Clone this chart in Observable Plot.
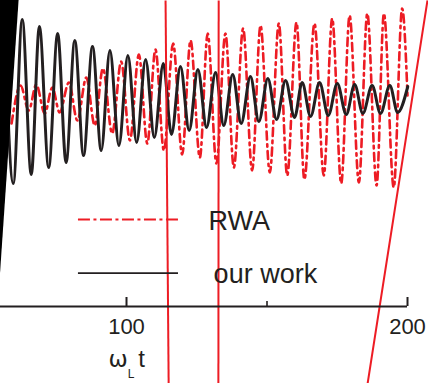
<!DOCTYPE html>
<html>
<head>
<meta charset="utf-8">
<script src="https://cdn.jsdelivr.net/npm/d3@7"></script>
<script src="https://cdn.jsdelivr.net/npm/@observablehq/plot@0.6"></script>
<style>
  html, body { margin: 0; padding: 0; background: #fff; overflow: hidden; }
  #chart svg { display: block; }
</style>
</head>
<body>
<div id="chart"></div>
<script>
// ---- data (time ωL t, signal amplitude; extrema) ----
const blackT = [56.5, 59.7, 62.9, 66.1, 69.0, 72.3, 75.5, 78.5, 81.6, 84.7, 87.9, 91.0, 94.1, 97.3,
  100.5, 103.6, 106.8, 109.9, 113.1, 116.0, 119.2, 122.3, 125.4, 128.5, 131.7, 134.6, 137.8, 140.8,
  144.1, 147.1, 150.3, 153.4, 156.6, 159.8, 162.5, 165.5, 168.7, 171.8, 175.0, 178.2, 181.2, 184.1,
  187.4, 190.4, 193.7, 196.5, 200.1];
const blackV = [0.88, -0.83, 0.81, -0.74, 0.74, -0.67, 0.67, -0.62, 0.60, -0.55, 0.54, -0.50, 0.50, -0.45,
  0.45, -0.42, 0.41, -0.37, 0.37, -0.34, 0.34, -0.30, 0.31, -0.27, 0.28, -0.25, 0.26, -0.23,
  0.24, -0.21, 0.22, -0.19, 0.20, -0.17, 0.18, -0.16, 0.18, -0.15, 0.17, -0.14, 0.16, -0.13,
  0.15, -0.13, 0.15, -0.12, 0.14];

const redT = [59.1, 62.3, 65.2, 67.9, 70.9, 73.6, 76.2, 79.5, 82.5, 85.7, 88.7, 91.6, 94.9, 98.1,
  101.2, 104.4, 107.4, 110.3, 113.3, 116.6, 119.8, 122.8, 126.1, 128.9, 132.0, 135.2, 138.2, 141.5,
  144.7, 147.7, 151.0, 154.2, 157.2, 160.5, 163.3, 166.9, 170.2, 173.2, 176.4, 179.4, 182.7, 185.7,
  189.0, 191.6, 195.1, 198.1, 200.0];
const redV = [-0.23, 0.15, -0.10, 0.16, -0.13, 0.13, -0.12, 0.18, -0.20, 0.23, -0.25, 0.32, -0.33, 0.39,
  -0.40, 0.46, -0.43, 0.51, -0.50, 0.57, -0.54, 0.60, -0.57, 0.67, -0.63, 0.67, -0.67, 0.72,
  -0.70, 0.75, -0.72, 0.77, -0.75, 0.78, -0.79, 0.77, -0.75, 0.82, -0.83, 0.85, -0.82, 0.87,
  -0.85, 0.87, -0.87, 0.92, 0.05];

const seriesNames = ["RWA", "our work"];
const majorTicks = [100, 200];
const minorTicks = [150];
const tickLabels = ["100", "200"];
const axisLabelParts = ["ω", "L", "t"];

// straight red guide lines crossing the figure (t at top edge, t at bottom edge)
const guideTopT = [113.9, 132.8, 207.1];
const guideBottomT = [115.0, 132.7, 185.8];
// black wedge on the left edge
const wedgeT = [55.0, 61.9];
const wedgeLow = [-1.8, 1.05];

// ---- build tables ----
const black = blackT.map((t, i) => ({t, v: blackV[i]}));
const red = redT.map((t, i) => ({t, v: redV[i]}));
const guides = guideTopT.map((t, i) => ({t1: t, t2: guideBottomT[i]}));
const wedge = wedgeT.map((t, i) => ({t, lo: wedgeLow[i]}));

const RED = "#ed1c24";
const INK = "#231f20";
const TOP = 1.0, BOTTOM = -2.83, AXIS_Y = -2.06;

const chart = Plot.plot({
  width: 428,
  height: 383,
  margin: 0,
  x: {domain: [55.16, 207.47], axis: null},
  y: {domain: [BOTTOM, TOP], axis: null},
  style: {background: "#fff", fontFamily: "'Liberation Sans', Arial, sans-serif", color: INK},
  marks: [
    Plot.line(red, {x: "t", y: "v", curve: "monotone-x", stroke: RED, strokeWidth: 2.6,
      strokeDasharray: "8,4.5,2.5,4.5"}),
    Plot.line(black, {x: "t", y: "v", curve: "monotone-x", stroke: INK, strokeWidth: 3}),
    // guide lines
    Plot.link(guides, {x1: "t1", x2: "t2", y1: TOP, y2: BOTTOM, stroke: RED, strokeWidth: 2}),
    // wedge
    Plot.areaY(wedge, {x: "t", y1: "lo", y2: 1.05, fill: "#000", curve: "linear"}),
    // x axis
    Plot.ruleY([AXIS_Y], {x1: 50, x2: 200, stroke: INK, strokeWidth: 2.2}),
    Plot.ruleX(majorTicks, {y1: AXIS_Y, y2: AXIS_Y + 0.09, stroke: INK, strokeWidth: 2}),
    Plot.ruleX(minorTicks, {y1: AXIS_Y, y2: AXIS_Y + 0.05, stroke: INK, strokeWidth: 1.6}),
    Plot.text(majorTicks, {x: d => d, y: -2.33, text: (d, i) => tickLabels[i], lineAnchor: "bottom",
      fontSize: 22, fill: INK}),
    // axis label ω_L t
    Plot.text([axisLabelParts[0]], {x: 100, dx: -8.5, y: -2.665, text: d => d, lineAnchor: "bottom",
      fontSize: 23, fill: INK, fontFamily: "'DejaVu Sans', sans-serif"}),
    Plot.text([axisLabelParts[1]], {x: 100, dx: 4.5, y: -2.775, text: d => d, lineAnchor: "bottom",
      fontSize: 12, fill: INK}),
    Plot.text([axisLabelParts[2]], {x: 100, dx: 15, y: -2.665, text: d => d, lineAnchor: "bottom",
      fontSize: 24, fill: INK}),
    // legend
    Plot.ruleY([-1.19], {x1: 82.9, x2: 118.5, stroke: RED, strokeWidth: 2, strokeDasharray: "12,3.5,3,3.5"}),
    Plot.ruleY([-1.727], {x1: 82.9, x2: 118.5, stroke: INK, strokeWidth: 1.7}),
    Plot.text(seriesNames, {x: [129.2, 131.0], y: [-1.29, -1.82], text: d => d, textAnchor: "start",
      lineAnchor: "bottom", fontSize: 27, fill: INK})
  ]
});
document.getElementById("chart").appendChild(chart);
</script>
</body>
</html>
